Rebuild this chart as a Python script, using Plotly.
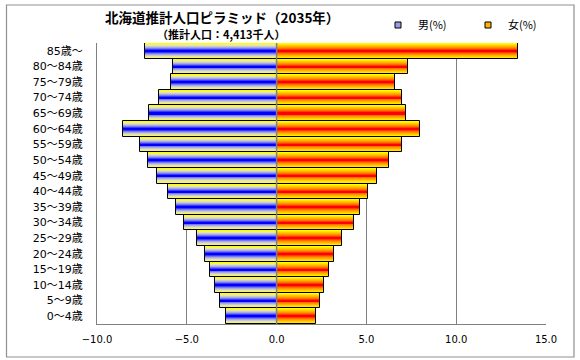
import plotly.graph_objects as go

# ---- data ----
age_groups = ["0～4歳", "5～9歳", "10～14歳", "15～19歳", "20～24歳", "25～29歳",
              "30～34歳", "35～39歳", "40～44歳", "45～49歳", "50～54歳", "55～59歳",
              "60～64歳", "65～69歳", "70～74歳", "75～79歳", "80～84歳", "85歳～"]
male_pct = [2.80, 3.14, 3.41, 3.69, 3.97, 4.45, 5.14, 5.58, 6.03, 6.67, 7.17, 7.62,
            8.53, 7.12, 6.56, 5.90, 5.75, 7.34]
female_pct = [2.20, 2.43, 2.65, 2.93, 3.20, 3.65, 4.32, 4.65, 5.10, 5.60, 6.27, 6.99,
              7.99, 7.21, 6.99, 6.60, 7.32, 13.44]
x_ticks = [-10, -5, 0, 5, 10, 15]
x_ticklabels = ["−10.0", "−5.0", "0.0", "5.0", "10.0", "15.0"]
series_names = ["男(%)", "女(%)"]
title_text = "北海道推計人口ピラミッド（2035年）"
subtitle_text = "（推計人口：4,413千人）"

# gradient layers (outer -> inner)
male_colors = ["#FFFF00", "#F4F070", "#E4E4B0", "#C8C8D0", "#A8A8E4", "#7878F0", "#3C3CF8", "#0000FF"]
female_colors = ["#FFFF00", "#FFE600", "#FFCC00", "#FFB000", "#FF9400", "#FF6E00", "#FF3C00", "#FF0000"]

CJK = "Noto Sans CJK JP"
LAT = "DejaVu Sans, Noto Sans CJK JP"
male_x = [-v for v in male_pct]

fig = go.Figure()
n = len(male_colors)
for vals, cols in ((male_x, male_colors), (female_pct, female_colors)):
    for i, c in enumerate(cols):
        w = 1.0 - i * (0.9 / (n - 1))
        fig.add_trace(go.Bar(x=vals, y=age_groups, orientation="h", width=w,
                             marker=dict(color=c, line=dict(width=0)),
                             showlegend=False, hoverinfo="skip"))
    # outline
    fig.add_trace(go.Bar(x=vals, y=age_groups, orientation="h", width=1.0,
                         marker=dict(color="rgba(0,0,0,0)", line=dict(color="black", width=1)),
                         showlegend=False, hoverinfo="skip"))

# legend entries
fig.add_trace(go.Scatter(x=[None], y=[None], mode="markers", name=series_names[0],
                         marker=dict(symbol="square", size=6, color="#9C9CE0",
                                     line=dict(color="black", width=1))))
fig.add_trace(go.Scatter(x=[None], y=[None], mode="markers", name=series_names[1],
                         marker=dict(symbol="square", size=6, color="#FFB000",
                                     line=dict(color="black", width=1))))

L, R, T, B = 97, 34, 43, 36
W, H = 580, 360
pw, ph = W - L - R, H - T - B

def px_x(p):
    return (p - L) / pw

def px_y(p):
    return (H - B - p) / ph

fig.update_layout(
    template="none",
    width=W, height=H,
    margin=dict(l=L, r=R, t=T, b=B, pad=0, autoexpand=False),
    paper_bgcolor="white", plot_bgcolor="white",
    barmode="overlay", bargap=0,
    font=dict(family=LAT, color="black", size=11),
    showlegend=True,
    legend=dict(orientation="h", x=px_x(378), y=px_y(25), xanchor="left", yanchor="middle",
                bgcolor="rgba(0,0,0,0)", borderwidth=0, font=dict(size=11, family=CJK),
                itemsizing="trace", entrywidth=45, entrywidthmode="pixels",
                tracegroupgap=0),
    xaxis=dict(range=[-10, 15], tickvals=x_ticks, ticktext=x_ticklabels,
               showgrid=True, gridcolor="#808080", gridwidth=1,
               zeroline=False, showline=True, linecolor="#808080", linewidth=1,
               ticks="", ticklabelstandoff=6, tickfont=dict(size=10, family=LAT),
               fixedrange=True, automargin=False),
    yaxis=dict(categoryorder="array", categoryarray=age_groups,
               range=[-0.5, len(age_groups) - 0.5],
               showgrid=False, zeroline=False, showline=True, linecolor="#808080",
               linewidth=1, ticks="", ticklabelstandoff=11,
               tickfont=dict(size=11, family=LAT), fixedrange=True, automargin=False),
    shapes=[
        dict(type="line", xref="x", yref="paper", x0=0, x1=0, y0=0, y1=1,
             line=dict(color="#808080", width=1.5), layer="above"),
        dict(type="rect", xref="paper", yref="paper",
             x0=px_x(6.5), x1=px_x(574), y0=px_y(357), y1=px_y(5),
             line=dict(color="#909090", width=1.2), fillcolor="rgba(0,0,0,0)"),
    ],
    annotations=[
        dict(text="<b>" + title_text + "</b>", xref="paper", yref="paper",
             x=px_x(222), y=px_y(17.5), xanchor="center", yanchor="middle",
             showarrow=False, font=dict(size=13.5, family=CJK)),
        dict(text="<b>" + subtitle_text + "</b>", xref="paper", yref="paper",
             x=px_x(221), y=px_y(34), xanchor="center", yanchor="middle",
             showarrow=False, font=dict(size=11, family=CJK)),
    ],
)

fig.write_html("out.html", config={"displayModeBar": False},
               post_script="document.body.style.margin='0px';")
